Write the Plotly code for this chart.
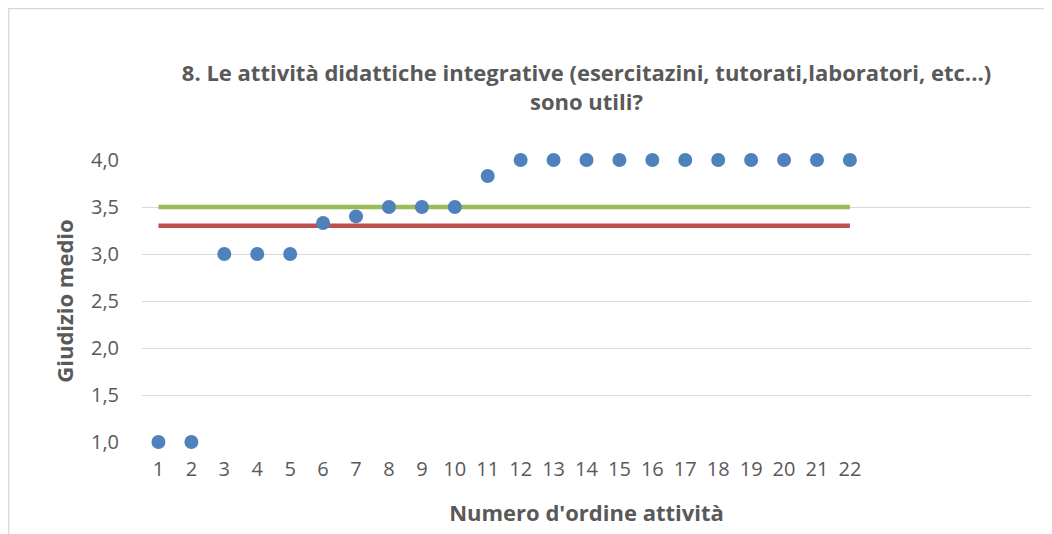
import plotly.graph_objects as go

activity = list(range(1, 23))
giudizio = [1.0, 1.0, 3.0, 3.0, 3.0, 3.33, 3.4, 3.5, 3.5, 3.5, 3.83,
            4.0, 4.0, 4.0, 4.0, 4.0, 4.0, 4.0, 4.0, 4.0, 4.0, 4.0]
media_green = [3.5] * 22
media_red = [3.3] * 22
y_ticks = [1.0, 1.5, 2.0, 2.5, 3.0, 3.5, 4.0]

FONT = "Open Sans"
TXT = "#595959"

W, H = 1044, 526
ML, MR, MT, MB = 134, 21, 152, 92
PW, PH = W - ML - MR, H - MT - MB

fig = go.Figure()
fig.add_trace(go.Scatter(x=activity, y=media_green, mode="lines",
                         line=dict(color="#9bbb59", width=4.5), showlegend=False))
fig.add_trace(go.Scatter(x=activity, y=media_red, mode="lines",
                         line=dict(color="#c0504d", width=4.5), showlegend=False))
fig.add_trace(go.Scatter(x=activity, y=giudizio, mode="markers", cliponaxis=False,
                         marker=dict(color="#4f81bd", size=14), showlegend=False))

fig.update_layout(
    width=W, height=H,
    margin=dict(l=ML, r=MR, t=MT, b=MB),
    paper_bgcolor="white", plot_bgcolor="white",
    separators=",.",
    font=dict(family=FONT, color=TXT),
    title=dict(text="<b>8. Le attività didattiche integrative (esercitazini, tutorati,laboratori, etc...)<br>sono utili?</b>",
               x=(ML + PW / 2) / W, xanchor="center", y=1 - 73 / H, yanchor="middle",
               font=dict(family=FONT, size=22, color=TXT)),
    xaxis=dict(range=[0.5, 27.5], tickvals=activity, ticktext=[str(a) for a in activity],
               showgrid=False, zeroline=False, showline=False, ticks="",
               ticklabelstandoff=13,
               tickfont=dict(size=20, color=TXT),
               title=dict(text="<b>Numero d'ordine attività</b>", font=dict(size=22, color=TXT), standoff=24)),
    yaxis=dict(range=[1.0, 4.0], tickvals=y_ticks, tickformat=".1f",
               showgrid=True, gridcolor="#d9d9d9", gridwidth=1.3, zeroline=False,
               showline=False, ticks="", ticklabelstandoff=22,
               tickfont=dict(size=20, color=TXT),
               title=dict(text="<b>Giudizio medio</b>", font=dict(size=22, color=TXT), standoff=11)),
    shapes=[dict(type="rect", xref="paper", yref="paper",
                 x0=-ML / PW + 0.0008, x1=1.2, y0=-0.6, y1=(H - MB) / PH - 0.002,
                 line=dict(color="#d9d9d9", width=1.3), layer="below")],
)
fig.update_yaxes(automargin=False)
fig.update_xaxes(automargin=False)
fig.write_html("out.html")
